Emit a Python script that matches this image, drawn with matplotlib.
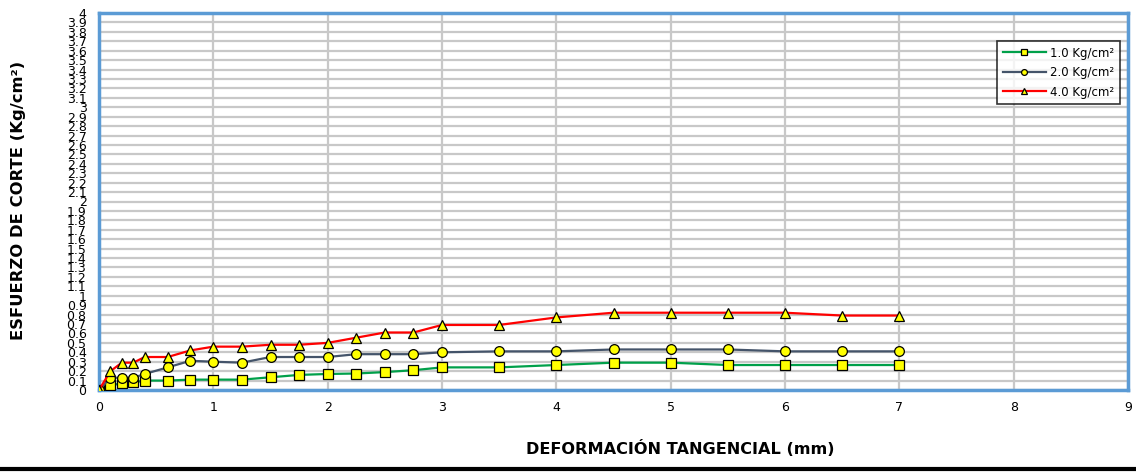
import matplotlib.pyplot as plt
import numpy as np
from matplotlib.lines import Line2D

# deformacion tangencial (mm)
deformacion = [0, 0.1, 0.2, 0.3, 0.4, 0.6, 0.8, 1.0, 1.25, 1.5, 1.75, 2.0,
               2.25, 2.5, 2.75, 3.0, 3.5, 4.0, 4.5, 5.0, 5.5, 6.0, 6.5, 7.0]

# esfuerzo de corte para cada carga normal
corte_1kg = [0, 0.05, 0.07, 0.08, 0.10, 0.10, 0.11, 0.11, 0.11, 0.135, 0.16, 0.17,
             0.175, 0.19, 0.21, 0.24, 0.24, 0.265, 0.29, 0.29, 0.265, 0.265, 0.265, 0.265]
corte_2kg = [0, 0.13, 0.13, 0.13, 0.17, 0.24, 0.31, 0.30, 0.29, 0.35, 0.35, 0.35,
             0.38, 0.38, 0.38, 0.40, 0.41, 0.41, 0.43, 0.43, 0.43, 0.41, 0.41, 0.41]
corte_4kg = [0, 0.2, 0.29, 0.29, 0.35, 0.35, 0.42, 0.46, 0.46, 0.48, 0.48, 0.5,
             0.555, 0.61, 0.61, 0.69, 0.69, 0.77, 0.82, 0.82, 0.82, 0.82, 0.79, 0.79]

etiquetas = ['1.0 Kg/cm²', '2.0 Kg/cm²', '4.0 Kg/cm²']

fig = plt.figure(figsize=(11.36, 4.72), dpi=100)
ax = fig.add_axes([99/1136, 82/472, 1029/1136, 377/472])

azul = '#5B9BD5'
ax.plot(deformacion, corte_1kg, '-s', color='#00A04A', lw=1.6, ms=6.5,
        mfc='#FFFF00', mec='black', mew=0.9, label=etiquetas[0], zorder=3)
ax.plot(deformacion, corte_2kg, '-o', color='#44546A', lw=1.6, ms=7,
        mfc='#FFFF00', mec='black', mew=0.9, label=etiquetas[1], zorder=3)
ax.plot(deformacion, corte_4kg, '-^', color='#FF0000', lw=1.6, ms=7,
        mfc='#FFFF00', mec='black', mew=0.9, label=etiquetas[2], zorder=3)

ax.set_xlim(0, 9)
ax.set_ylim(0, 4)
ax.set_xticks(np.arange(0, 10, 1))
yt = np.round(np.arange(0, 4.01, 0.1), 1)
ax.set_yticks(yt)
ax.set_yticklabels(['0' if v == 0 else ('%g' % v) for v in yt])
ax.tick_params(axis='both', length=0, labelsize=9, pad=8)
ax.tick_params(axis='y', pad=9)
for t in ax.get_yticklabels():
    t.set_family(['Liberation Sans Narrow', 'DejaVu Sans'])

ax.grid(True, color='#C8C8C8', lw=1.6, zorder=0)
ax.set_axisbelow(True)
for s in ax.spines.values():
    s.set_color(azul)
    s.set_linewidth(2.5)

leg = ax.legend(loc='upper right', bbox_to_anchor=(0.995, 0.933), fontsize=8.5,
                frameon=True, fancybox=False, edgecolor='black', markerscale=0.6,
                handlelength=3.6, handletextpad=0.4, borderpad=0.5,
                labelspacing=0.55, borderaxespad=0.2)
leg.get_frame().set_linewidth(1.2)

fig.text(19/1136, 1 - 200/472, 'ESFUERZO DE CORTE (Kg/cm²)', rotation=90,
         ha='center', va='center', fontsize=11.8, fontweight='bold')
fig.text(680/1136, 1 - 448/472, 'DEFORMACIÓN TANGENCIAL (mm)',
         ha='center', va='center', fontsize=11.6, fontweight='bold')

# linea inferior del marco
fig.add_artist(Line2D([0, 1], [3/472, 3/472], color='black', lw=3,
                      transform=fig.transFigure))

plt.savefig('out.png', dpi=100)
